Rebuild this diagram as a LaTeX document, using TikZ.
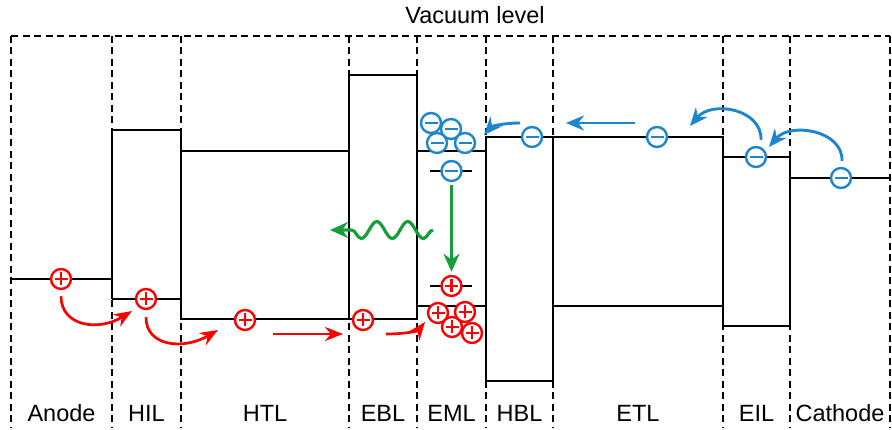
\documentclass[tikz,border=0pt]{standalone}
\usepackage{fontspec}
\setmainfont{Liberation Sans}
\usetikzlibrary{arrows.meta,calc,decorations.pathmorphing}
\definecolor{eblue}{RGB}{27,133,206}
\definecolor{hred}{RGB}{250,0,0}
\definecolor{pgreen}{RGB}{22,158,58}

\begin{document}
\begin{tikzpicture}[x=1pt,y=1pt,
  level/.style={line width=2.7pt},
  sep/.style={line width=2.5pt,dash pattern=on 7pt off 4.5pt},
  charge/.style={circle,line width=2.4pt,minimum size=20pt,inner sep=0pt,fill=white},
  elec/.style={charge,draw=eblue,path picture={
      \draw[eblue,line width=2.8pt] ([xshift=-6.5pt]path picture bounding box.center)
        -- ([xshift=6.5pt]path picture bounding box.center);}},
  hole/.style={charge,draw=hred,path picture={
      \draw[hred,line width=2.6pt] ([xshift=-6.5pt]path picture bounding box.center)
        -- ([xshift=6.5pt]path picture bounding box.center)
        ([yshift=-6.5pt]path picture bounding box.center)
        -- ([yshift=6.5pt]path picture bounding box.center);}},
  earrow/.style={eblue,line width=2.9pt,-{Stealth[length=18pt,width=15pt]}},
  harrow/.style={hred,line width=2.7pt,-{Stealth[length=18pt,width=14pt]}},
  garrow/.style={pgreen,line width=3.2pt,-{Stealth[length=18pt,width=16pt]}},
  lab/.style={font=\fontsize{23.5}{27}\selectfont,anchor=base}]
  \useasboundingbox (0,0) rectangle (892,430);

  \draw[sep] (11,394) -- (890,394);
  \foreach \x in {11,112,181,349,417,486,553,723,790,890}
    \draw[sep] (\x,394) -- (\x,2);

  \draw[level] (11,151) -- (112,151);
  \draw[level] (112,131) -- (112,300) -- (181,300) -- (181,111) -- (349,111);
  \draw[level] (112,131) -- (181,131);
  \draw[level] (181,279) -- (349,279);
  \draw[level] (349,111) rectangle (417,355);
  \draw[level] (417,279) -- (486,279);
  \draw[level] (417,124) -- (486,124);
  \draw[level] (430,259) -- (472,259);
  \draw[level] (430,144) -- (472,144);
  \draw[level] (486,49) rectangle (553,293);
  \draw[level] (553,293) -- (723,293) -- (723,104) -- (790,104) -- (790,273) -- (723,273);
  \draw[level] (553,124) -- (723,124);
  \draw[level] (790,252) -- (890,252);

  \node[lab] (tvac) at (475,406) {Vacuum level};
  \node[lab] (tano) at (61.5,8) {Anode};
  \node[lab] (thil) at (146.5,8) {HIL};
  \node[lab] (thtl) at (265,8) {HTL};
  \node[lab] (tebl) at (383,8) {EBL};
  \node[lab] (teml) at (451.5,8) {EML};
  \node[lab] (thbl) at (519.5,8) {HBL};
  \node[lab] (tetl) at (638,8) {ETL};
  \node[lab] (teil) at (756.5,8) {EIL};
  \node[lab] (tcat) at (840,8) {Cathode};

  \node[elec] (ecat) at (841,252) {};
  \node[elec] (eeil) at (756,273) {};
  \node[elec] (eetl) at (657,293) {};
  \node[elec] (ehbl) at (532,293) {};
  \node[elec] (eml1) at (431,307) {};
  \node[elec] (eml2) at (451,301) {};
  \node[elec] (eml3) at (437,287) {};
  \node[elec] (eml4) at (465,287) {};
  \node[elec] (exc) at (451.5,259) {};

  \node[hole] (hano) at (61,151) {};
  \node[hole] (hhil) at (146,131) {};
  \node[hole] (hhtl) at (245,110) {};
  \node[hole] (hebl) at (363,110) {};
  \node[hole] (hexc) at (451.5,144) {};
  \node[hole] (hml1) at (438,117) {};
  \node[hole] (hml2) at (465,118) {};
  \node[hole] (hml3) at (452,103) {};
  \node[hole] (hml4) at (472,97) {};

  \draw[harrow] ([yshift=-6pt]hano.south) .. controls (61,104) and (98,98) .. ([shift={(-14,-12)}]hhil.center);
  \draw[harrow] ([yshift=-7pt]hhil.south) .. controls (146,83) and (184,80) .. ([shift={(-27,-10)}]hhtl.center);
  \draw[harrow] ([shift={(28,-14)}]hhtl.center) -- ([shift={(-20,-14)}]hebl.center);
  \draw[harrow] ([shift={(23,-14)}]hebl.center) .. controls (405,96) and (418,99) .. ([shift={(-13,-9)}]hml1.center);

  \draw[earrow] ([shift={(1,6)}]ecat.north) .. controls (843,300) and (790,308) .. ([shift={(13,10)}]eeil.center);
  \draw[earrow] ([shift={(5,6)}]eeil.north) .. controls (762,321) and (712,330) .. ([shift={(33,11)}]eetl.center);
  \draw[earrow] ([shift={(-22,14)}]eetl.center) -- ([shift={(34,14)}]ehbl.center);
  \draw[earrow] ([shift={(-12,14)}]ehbl.center) .. controls (505,307) and (492,304) .. ([shift={(19,8)}]eml4.center);

  \draw[garrow] ([yshift=-3pt]exc.south) -- ([yshift=3pt]hexc.north);
  \coordinate (wstart) at (433,200);
  \coordinate (wend) at (330,200);
  \draw[garrow,decorate,decoration={snake,amplitude=8.5pt,segment length=31pt,post length=20pt}]
    (wstart) -- (wend);
\end{tikzpicture}
\end{document}
